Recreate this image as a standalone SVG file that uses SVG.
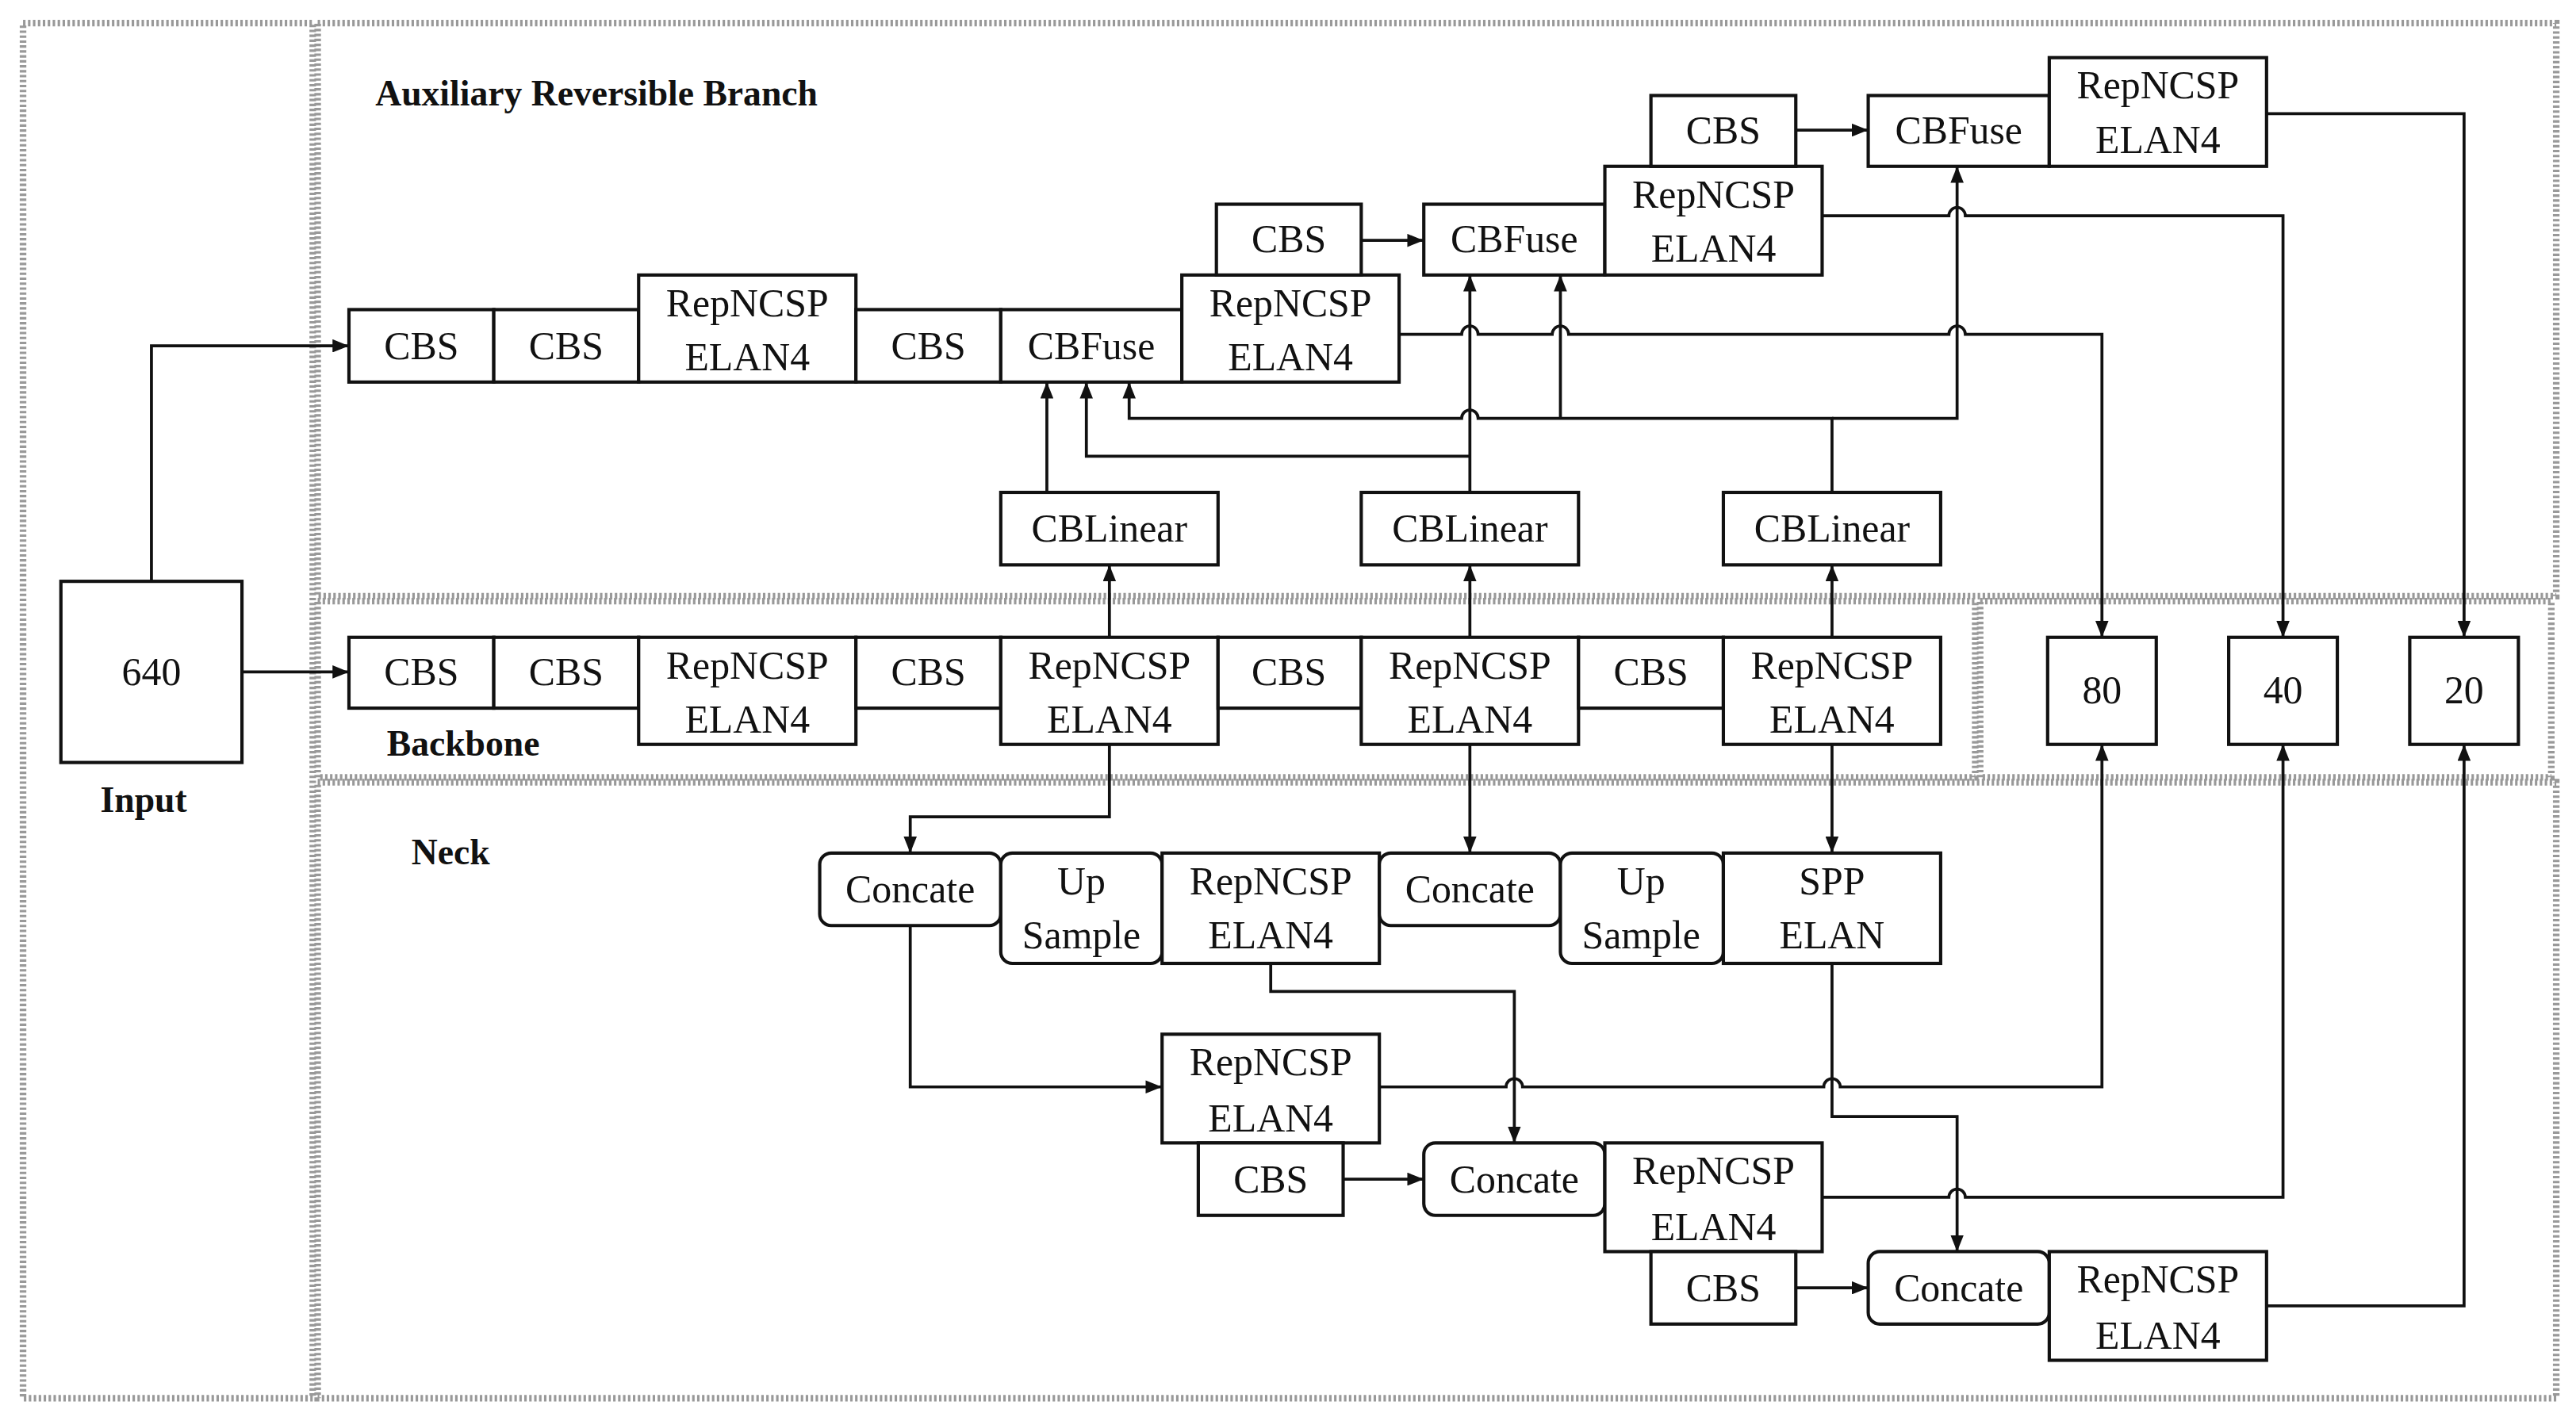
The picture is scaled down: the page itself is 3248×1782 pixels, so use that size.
<svg xmlns="http://www.w3.org/2000/svg" width="3248" height="1782" viewBox="0 0 3248 1782">
<style>
.b{fill:#fff;stroke:#111;stroke-width:2}
.t{font-family:"Liberation Serif",serif;font-size:24px;fill:#111;text-anchor:middle;dominant-baseline:central}
.h{font-family:"Liberation Serif",serif;font-size:22px;font-weight:bold;fill:#111}
.c{fill:none;stroke:#111;stroke-width:1.8}
.f{fill:none;stroke:#999;stroke-width:4;stroke-dasharray:1.5 1.5}
</style>
<defs>
<marker id="a" markerUnits="userSpaceOnUse" markerWidth="10" markerHeight="8" refX="10" refY="4" orient="auto"><path d="M0,0 L10,4 L0,8 Z" fill="#111"/></marker>
</defs>
<rect width="3248" height="1782" fill="#fff"/>
<g transform="scale(2.0754,2.0769)">
<g id="regions">
<rect class="f" x="14" y="14" width="176" height="835"/>
<rect class="f" x="193" y="14" width="1360" height="348"/>
<rect class="f" x="193" y="365" width="1007" height="107"/>
<rect class="f" x="1203" y="365" width="347" height="107"/>
<rect class="f" x="193" y="475" width="1360" height="374"/>
<text class="h" x="228" y="64">Auxiliary Reversible Branch</text>
<text class="h" x="235" y="459">Backbone</text>
<text class="h" x="61" y="493">Input</text>
<text class="h" x="250" y="525">Neck</text>
</g>
<g id="connectors">
<path class="c" marker-end="url(#a)" d="M147,408 H212"/>
<path class="c" marker-end="url(#a)" d="M92,353 V210 H212"/>
<path class="c" marker-end="url(#a)" d="M827,146 H865"/>
<path class="c" marker-end="url(#a)" d="M1091,79 H1135"/>
<path class="c" marker-end="url(#a)" d="M674,387 V343"/>
<path class="c" marker-end="url(#a)" d="M893,387 V343"/>
<path class="c" marker-end="url(#a)" d="M1113,387 V343"/>
<path class="c" marker-end="url(#a)" d="M636,299 V232"/>
<path class="c" marker-end="url(#a)" d="M893,299 V167"/>
<path class="c" marker-end="url(#a)" d="M893,277 H660 V232"/>
<path class="c" marker-end="url(#a)" d="M1113,299 V254 H898 a5,5 0 0 0 -10,0 H686 V232"/>
<path class="c" marker-end="url(#a)" d="M948,254 V167"/>
<path class="c" marker-end="url(#a)" d="M1113,254 H1189 V101"/>
<path class="c" marker-end="url(#a)" d="M850,203 H888 a5,5 0 0 1 10,0 H943 a5,5 0 0 1 10,0 H1184 a5,5 0 0 1 10,0 H1277 V387"/>
<path class="c" marker-end="url(#a)" d="M1107,131 H1184 a5,5 0 0 1 10,0 H1387 V387"/>
<path class="c" marker-end="url(#a)" d="M1377,69 H1497 V387"/>
<path class="c" marker-end="url(#a)" d="M674,452 V496 H553 V518"/>
<path class="c" marker-end="url(#a)" d="M893,452 V518"/>
<path class="c" marker-end="url(#a)" d="M1113,452 V518"/>
<path class="c" marker-end="url(#a)" d="M553,562 V660 H706"/>
<path class="c" marker-end="url(#a)" d="M772,585 V602 H920 V694"/>
<path class="c" marker-end="url(#a)" d="M1113,585 V678 H1189 V760"/>
<path class="c" marker-end="url(#a)" d="M838,660 H915 a5,5 0 0 1 10,0 H1108 a5,5 0 0 1 10,0 H1277 V452"/>
<path class="c" marker-end="url(#a)" d="M1107,727 H1184 a5,5 0 0 1 10,0 H1387 V452"/>
<path class="c" marker-end="url(#a)" d="M1377,793 H1497 V452"/>
<path class="c" marker-end="url(#a)" d="M816,716 H865"/>
<path class="c" marker-end="url(#a)" d="M1091,782 H1135"/>
</g>
<g id="input"><rect class="b" x="37" y="353" width="110" height="110"/><text class="t" x="92" y="408">640</text></g>
<g id="a1"><rect class="b" x="212" y="188" width="88" height="44"/><text class="t" x="256" y="210">CBS</text></g>
<g id="a2"><rect class="b" x="300" y="188" width="88" height="44"/><text class="t" x="344" y="210">CBS</text></g>
<g id="a3"><rect class="b" x="388" y="167" width="132" height="65"/><text class="t" x="454" y="184">RepNCSP</text><text class="t" x="454" y="217">ELAN4</text></g>
<g id="a4"><rect class="b" x="520" y="188" width="88" height="44"/><text class="t" x="564" y="210">CBS</text></g>
<g id="a5"><rect class="b" x="608" y="188" width="110" height="44"/><text class="t" x="663" y="210">CBFuse</text></g>
<g id="a6"><rect class="b" x="718" y="167" width="132" height="65"/><text class="t" x="784" y="184">RepNCSP</text><text class="t" x="784" y="217">ELAN4</text></g>
<g id="a7"><rect class="b" x="739" y="124" width="88" height="43"/><text class="t" x="783" y="145">CBS</text></g>
<g id="a8"><rect class="b" x="865" y="124" width="110" height="43"/><text class="t" x="920" y="145">CBFuse</text></g>
<g id="a9"><rect class="b" x="975" y="101" width="132" height="66"/><text class="t" x="1041" y="118">RepNCSP</text><text class="t" x="1041" y="151">ELAN4</text></g>
<g id="a10"><rect class="b" x="1003" y="58" width="88" height="43"/><text class="t" x="1047" y="79">CBS</text></g>
<g id="a11"><rect class="b" x="1135" y="58" width="110" height="43"/><text class="t" x="1190" y="79">CBFuse</text></g>
<g id="a12"><rect class="b" x="1245" y="35" width="132" height="66"/><text class="t" x="1311" y="52">RepNCSP</text><text class="t" x="1311" y="85">ELAN4</text></g>
<g id="l1"><rect class="b" x="608" y="299" width="132" height="44"/><text class="t" x="674" y="321">CBLinear</text></g>
<g id="l2"><rect class="b" x="827" y="299" width="132" height="44"/><text class="t" x="893" y="321">CBLinear</text></g>
<g id="l3"><rect class="b" x="1047" y="299" width="132" height="44"/><text class="t" x="1113" y="321">CBLinear</text></g>
<g id="b1"><rect class="b" x="212" y="387" width="88" height="43"/><text class="t" x="256" y="408">CBS</text></g>
<g id="b2"><rect class="b" x="300" y="387" width="88" height="43"/><text class="t" x="344" y="408">CBS</text></g>
<g id="b3"><rect class="b" x="388" y="387" width="132" height="65"/><text class="t" x="454" y="404">RepNCSP</text><text class="t" x="454" y="437">ELAN4</text></g>
<g id="b4"><rect class="b" x="520" y="387" width="88" height="43"/><text class="t" x="564" y="408">CBS</text></g>
<g id="b5"><rect class="b" x="608" y="387" width="132" height="65"/><text class="t" x="674" y="404">RepNCSP</text><text class="t" x="674" y="437">ELAN4</text></g>
<g id="b6"><rect class="b" x="740" y="387" width="87" height="43"/><text class="t" x="783" y="408">CBS</text></g>
<g id="b7"><rect class="b" x="827" y="387" width="132" height="65"/><text class="t" x="893" y="404">RepNCSP</text><text class="t" x="893" y="437">ELAN4</text></g>
<g id="b8"><rect class="b" x="959" y="387" width="88" height="43"/><text class="t" x="1003" y="408">CBS</text></g>
<g id="b9"><rect class="b" x="1047" y="387" width="132" height="65"/><text class="t" x="1113" y="404">RepNCSP</text><text class="t" x="1113" y="437">ELAN4</text></g>
<g id="o80"><rect class="b" x="1244" y="387" width="66" height="65"/><text class="t" x="1277" y="419">80</text></g>
<g id="o40"><rect class="b" x="1354" y="387" width="66" height="65"/><text class="t" x="1387" y="419">40</text></g>
<g id="o20"><rect class="b" x="1464" y="387" width="66" height="65"/><text class="t" x="1497" y="419">20</text></g>
<g id="n1"><rect class="b" x="498" y="518" width="110" height="44" rx="7"/><text class="t" x="553" y="540">Concate</text></g>
<g id="n2"><rect class="b" x="608" y="518" width="98" height="67" rx="7"/><text class="t" x="657" y="535">Up</text><text class="t" x="657" y="568">Sample</text></g>
<g id="n3"><rect class="b" x="706" y="518" width="132" height="67"/><text class="t" x="772" y="535">RepNCSP</text><text class="t" x="772" y="568">ELAN4</text></g>
<g id="n4"><rect class="b" x="838" y="518" width="110" height="44" rx="7"/><text class="t" x="893" y="540">Concate</text></g>
<g id="n5"><rect class="b" x="948" y="518" width="99" height="67" rx="7"/><text class="t" x="997" y="535">Up</text><text class="t" x="997" y="568">Sample</text></g>
<g id="n6"><rect class="b" x="1047" y="518" width="132" height="67"/><text class="t" x="1113" y="535">SPP</text><text class="t" x="1113" y="568">ELAN</text></g>
<g id="n7"><rect class="b" x="706" y="628" width="132" height="66"/><text class="t" x="772" y="645">RepNCSP</text><text class="t" x="772" y="679">ELAN4</text></g>
<g id="n8"><rect class="b" x="728" y="694" width="88" height="44"/><text class="t" x="772" y="716">CBS</text></g>
<g id="n9"><rect class="b" x="865" y="694" width="110" height="44" rx="7"/><text class="t" x="920" y="716">Concate</text></g>
<g id="n10"><rect class="b" x="975" y="694" width="132" height="66"/><text class="t" x="1041" y="711">RepNCSP</text><text class="t" x="1041" y="745">ELAN4</text></g>
<g id="n11"><rect class="b" x="1003" y="760" width="88" height="44"/><text class="t" x="1047" y="782">CBS</text></g>
<g id="n12"><rect class="b" x="1135" y="760" width="110" height="44" rx="7"/><text class="t" x="1190" y="782">Concate</text></g>
<g id="n13"><rect class="b" x="1245" y="760" width="132" height="66"/><text class="t" x="1311" y="777">RepNCSP</text><text class="t" x="1311" y="811">ELAN4</text></g>
</g>
</svg>
